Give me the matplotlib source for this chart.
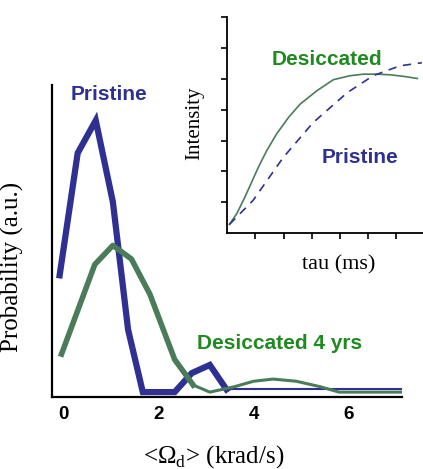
import matplotlib
matplotlib.use("Agg")
import matplotlib.pyplot as plt

# main panel: distribution of <Omega_d>
pristine_x = [-0.08, 0.30, 0.68, 1.04, 1.36, 1.67, 2.34, 2.70, 3.08, 3.43]
pristine_y = [0.43, 0.88, 1.00, 0.70, 0.23, 0.0, 0.0, 0.07, 0.10, 0.01]
pristine_tail_x = [3.43, 7.10]
pristine_tail_y = [0.01, 0.01]

desic_x = [-0.04, 0.66, 1.04, 1.43, 1.82, 2.34, 2.73]
desic_y = [0.14, 0.47, 0.54, 0.49, 0.36, 0.12, 0.026]
desic_tail_x = [2.73, 3.08, 3.60, 4.00, 4.41, 4.90, 5.40, 5.80, 7.10]
desic_tail_y = [0.026, 0.0, 0.02, 0.04, 0.048, 0.04, 0.02, 0.0, 0.0]

# inset: intensity vs tau
ins_desic_x = [0.08, 0.34, 0.58, 0.82, 1.11, 1.41, 1.76, 2.18, 2.59, 3.18,
               3.77, 4.36, 4.84, 5.31, 5.78, 6.25, 6.75]
ins_desic_y = [0.28, 0.63, 1.07, 1.55, 2.14, 2.68, 3.22, 3.75, 4.18, 4.61,
               4.97, 5.10, 5.15, 5.15, 5.13, 5.08, 5.01]
ins_prist_x = [0.08, 0.92, 1.99, 3.05, 4.26, 5.18, 6.13, 6.91]
ins_prist_y = [0.28, 1.06, 2.45, 3.58, 4.55, 5.10, 5.42, 5.52]

xticks = [0, 2, 4, 6]

blue = "#2e3192"
green_line = "#4a7c59"
green_text = "#1f8a1f"

plt.rcParams['mathtext.fontset'] = 'custom'
plt.rcParams['mathtext.rm'] = 'Liberation Serif'

fig = plt.figure(figsize=(4.23, 4.69), dpi=100)
ax = fig.add_axes([0.123, 0.1535, 0.827, 0.665])

ax.plot(pristine_x, pristine_y, color=blue, lw=4.5, solid_joinstyle='miter')
ax.plot(pristine_tail_x, pristine_tail_y, color=blue, lw=1.5)
ax.plot(desic_x, desic_y, color=green_line, lw=4.0)
ax.plot(desic_tail_x, desic_tail_y, color=green_line, lw=2.2)

ax.set_xlim(-0.24, 7.12)
ax.set_ylim(-0.018, 1.13)
ax.set_xticks(xticks)
ax.set_xticklabels([str(t) for t in xticks], fontfamily='Liberation Sans',
                   fontweight='bold', fontsize=13.5)
ax.tick_params(axis='x', length=0, pad=6.5)
ax.set_yticks([])
for s in ['top', 'right']:
    ax.spines[s].set_visible(False)
for s in ['left', 'bottom']:
    ax.spines[s].set_linewidth(1.6)

ax.set_ylabel("Probability (a.u.)", fontfamily='Liberation Serif', fontsize=18)
ax.yaxis.set_label_coords(-0.08, 0.417)
ax.set_xlabel(r"<Ω$_{\rm d}$> (krad/s)", fontfamily='Liberation Serif', fontsize=18,
              va='center')
ax.xaxis.set_label_coords(0.463, -0.192)

fig.text(71 / 423, 1 - 94 / 469, "Pristine", color=blue, fontsize=15,
         fontfamily='Liberation Sans', fontweight='bold', ha='left', va='center')
fig.text(197 / 423, 1 - 343 / 469, "Desiccated 4 yrs", color=green_text, fontsize=15,
         fontfamily='Liberation Sans', fontweight='bold', ha='left', va='center')

# inset
ins = fig.add_axes([0.537, 0.503, 0.463, 0.4606])
ins.patch.set_alpha(0)
ins.plot(ins_desic_x, ins_desic_y, color=green_line, lw=1.2)
ins.plot(ins_prist_x, ins_prist_y, color=blue, lw=1.2, ls=(0, (5, 4)))
ins.set_xlim(0, 6.95)
ins.set_ylim(0, 7)
ins.set_xticks(range(1, 7))
ins.set_yticks(range(1, 8))
ins.set_xticklabels([])
ins.set_yticklabels([])
ins.tick_params(direction='out', length=4, width=1.2)
for s in ['top', 'right']:
    ins.spines[s].set_visible(False)
for s in ['left', 'bottom']:
    ins.spines[s].set_linewidth(1.3)
ins.set_ylabel("Intensity", fontfamily='Liberation Serif', fontsize=15, va='center')
ins.yaxis.set_label_coords(-0.163, 0.509)
ins.set_xlabel("tau (ms)", fontfamily='Liberation Serif', fontsize=16, va='center')
ins.xaxis.set_label_coords(0.571, -0.148)
ins.text((272 - 227) / 196, (233 - 59) / 216, "Desiccated", transform=ins.transAxes,
         color=green_text, fontsize=15, fontfamily='Liberation Sans', fontweight='bold',
         ha='left', va='center')
ins.text((322 - 227) / 196, (233 - 157) / 216, "Pristine", transform=ins.transAxes,
         color=blue, fontsize=15, fontfamily='Liberation Sans', fontweight='bold',
         ha='left', va='center')

fig.savefig("out.png", dpi=100)
